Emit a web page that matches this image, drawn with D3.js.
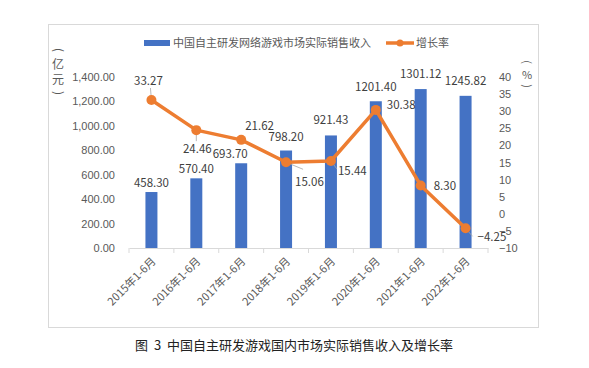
<!DOCTYPE html>
<html>
<head>
<meta charset="utf-8">
<script src="https://cdn.jsdelivr.net/npm/d3@7"></script>
<style>
  body { margin: 0; background: #fff; }
  svg { font-family: "Noto Sans CJK SC", "Noto Sans", sans-serif; }
</style>
</head>
<body>
<svg></svg>
<script>
var categories = ['2015年1-6月', '2016年1-6月', '2017年1-6月', '2018年1-6月',
  '2019年1-6月', '2020年1-6月', '2021年1-6月', '2022年1-6月'];
var revenue = [458.30, 570.40, 693.70, 798.20, 921.43, 1201.40, 1301.12, 1245.82];
var growth = [33.27, 24.46, 21.62, 15.06, 15.44, 30.38, 8.30, -4.25];
var leftTicks = [0, 200, 400, 600, 800, 1000, 1200, 1400];
var rightTicks = [-10, -5, 0, 5, 10, 15, 20, 25, 30, 35, 40];

var svgWidth = 589;
var svgHeight = 368;
var barColor = '#4472C4';
var lineColor = '#ED7D31';
var textColor = '#404040';

// label placement relative to each point (layout only)
var barLabelDx = [0, 0, -11, 0, 0, 0, 0, 0];
var barLabelDy = [-5, -5, -5, -10, -11, -10, -11, -11];
var lineLabel = [
  {dx: -3, dy: -15, anchor: 'middle', lx: -1, ly: -12},
  {dx: 1, dy: 23, anchor: 'middle', lx: 0, ly: 11},
  {dx: 4, dy: -10, anchor: 'start', lx: 0, ly: 0},
  {dx: 9, dy: 24, anchor: 'start', lx: 17, ly: 7},
  {dx: 7, dy: 14, anchor: 'start', lx: 6, ly: 8},
  {dx: 11, dy: -1, anchor: 'start', lx: 0, ly: 0},
  {dx: 13, dy: 5, anchor: 'start', lx: 0, ly: 0},
  {dx: 12, dy: 13, anchor: 'start', lx: 7, ly: 8}
];

var svg = d3.select('svg')
  .attr('width', svgWidth)
  .attr('height', svgHeight);

// ----- frame ----- //
svg.append('rect')
  .attr('x', 48.5).attr('y', 24.5)
  .attr('width', 490).attr('height', 303)
  .attr('fill', 'none')
  .attr('stroke', '#d9d9d9');

// ----- scales ----- //
var x = d3.scaleBand().domain(categories).range([129, 488]);
var yL = d3.scaleLinear().domain([0, 1400]).range([248, 77]);
var yR = d3.scaleLinear().domain([-10, 40]).range([248, 77]);

function cx(i) { return x(categories[i]) + x.bandwidth() / 2; }

// ----- axes ----- //
var leftAxis = svg.append('g')
  .attr('transform', translate(120, 0))
  .call(d3.axisLeft(yL).tickValues(leftTicks).tickSize(0).tickPadding(5)
    .tickFormat(d3.format(',.2f')));
leftAxis.select('.domain').remove();
leftAxis.selectAll('text').attr('fill', '#595959').style('font-size', '11px');

var rightAxis = svg.append('g')
  .attr('transform', translate(494, 0))
  .call(d3.axisRight(yR).tickValues(rightTicks).tickSize(0).tickPadding(5));
rightAxis.select('.domain').remove();
rightAxis.selectAll('text').attr('fill', '#595959').style('font-size', '11px');

var xAxis = svg.append('g')
  .attr('transform', translate(0, 248))
  .call(d3.axisBottom(x).tickSize(0).tickFormat(''));
xAxis.select('.domain').attr('stroke', '#d9d9d9');
// boundary ticks
svg.append('g').selectAll('line')
  .data(d3.range(categories.length + 1))
  .enter()
  .append('line')
  .attr('x1', function(d) { return 129 + d * x.step(); })
  .attr('x2', function(d) { return 129 + d * x.step(); })
  .attr('y1', 248).attr('y2', 253)
  .attr('stroke', '#d9d9d9');

svg.append('g').selectAll('text')
  .data(categories)
  .enter()
  .append('text')
  .attr('transform', function(d) {
    return translate(x(d) + x.bandwidth() / 2 + 5, 262) + ' rotate(-45)';
  })
  .attr('text-anchor', 'end')
  .attr('fill', '#595959')
  .style('font-size', '11px')
  .text(function(d) { return d; });

// ----- axis units (vertical, brackets turned) ----- //
unitLabel(58, 50, ['亿', '元'], 15, 12);
unitLabel(527, 62, ['%'], 13, 11);

function unitLabel(ux, top, chars, step, size) {
  var g = svg.append('g')
    .attr('fill', '#595959')
    .style('font-size', size + 'px');
  g.append('text')
    .attr('transform', translate(ux, top) + ' rotate(90)')
    .attr('text-anchor', 'middle')
    .attr('dy', '0.35em')
    .text('(');
  g.selectAll('text.c')
    .data(chars)
    .enter()
    .append('text')
    .attr('class', 'c')
    .attr('x', ux)
    .attr('y', function(d, i) { return top + (i + 1) * step; })
    .attr('dy', '0.35em')
    .attr('text-anchor', 'middle')
    .text(function(d) { return d; });
  g.append('text')
    .attr('transform', translate(ux, top + (chars.length + 1) * step - 2) + ' rotate(90)')
    .attr('text-anchor', 'middle')
    .attr('dy', '0.35em')
    .text(')');
}

// ----- bars ----- //
var barW = 12;
svg.append('g').selectAll('rect')
  .data(revenue)
  .enter()
  .append('rect')
  .attr('x', function(d, i) { return cx(i) - barW / 2; })
  .attr('y', function(d) { return yL(d); })
  .attr('width', barW)
  .attr('height', function(d) { return yL(0) - yL(d); })
  .attr('fill', barColor);

svg.append('g').selectAll('text')
  .data(revenue)
  .enter()
  .append('text')
  .attr('x', function(d, i) { return cx(i) + barLabelDx[i]; })
  .attr('y', function(d, i) { return yL(d) + barLabelDy[i]; })
  .attr('text-anchor', 'middle')
  .attr('fill', textColor)
  .style('font-size', '11.5px')
  .text(function(d) { return d3.format('.2f')(d); });

// ----- line ----- //
var line = d3.line()
  .x(function(d, i) { return cx(i); })
  .y(function(d) { return yR(d); });

svg.append('path')
  .datum(growth)
  .attr('d', line)
  .attr('fill', 'none')
  .attr('stroke', lineColor)
  .attr('stroke-width', 3.5)
  .attr('stroke-linejoin', 'round');

// leader lines
svg.append('g').selectAll('line')
  .data(growth)
  .enter()
  .append('line')
  .attr('x1', function(d, i) { return cx(i); })
  .attr('y1', function(d) { return yR(d); })
  .attr('x2', function(d, i) { return cx(i) + lineLabel[i].lx; })
  .attr('y2', function(d, i) { return yR(d) + lineLabel[i].ly; })
  .attr('stroke', '#a6a6a6')
  .attr('stroke-width', 0.8);

svg.append('g').selectAll('circle')
  .data(growth)
  .enter()
  .append('circle')
  .attr('cx', function(d, i) { return cx(i); })
  .attr('cy', function(d) { return yR(d); })
  .attr('r', 5)
  .attr('fill', lineColor);

svg.append('g').selectAll('text')
  .data(growth)
  .enter()
  .append('text')
  .attr('x', function(d, i) { return cx(i) + lineLabel[i].dx; })
  .attr('y', function(d, i) { return yR(d) + lineLabel[i].dy; })
  .attr('text-anchor', function(d, i) { return lineLabel[i].anchor; })
  .attr('fill', textColor)
  .style('font-size', '11.5px')
  .text(function(d) { return d3.format('.2f')(d); });

// ----- legend ----- //
var legend = svg.append('g');
legend.append('rect')
  .attr('x', 144).attr('y', 40).attr('width', 26).attr('height', 6)
  .attr('fill', barColor);
legend.append('text')
  .attr('x', 173).attr('y', 47)
  .attr('fill', '#595959')
  .style('font-size', '11px')
  .text('中国自主研发网络游戏市场实际销售收入');
legend.append('line')
  .attr('x1', 386).attr('x2', 414).attr('y1', 43).attr('y2', 43)
  .attr('stroke', lineColor).attr('stroke-width', 3.5);
legend.append('circle')
  .attr('cx', 400).attr('cy', 43).attr('r', 3.5)
  .attr('fill', lineColor);
legend.append('text')
  .attr('x', 416).attr('y', 47)
  .attr('fill', '#595959')
  .style('font-size', '11px')
  .text('增长率');

// ----- caption ----- //
svg.append('text')
  .attr('x', 294).attr('y', 350)
  .attr('text-anchor', 'middle')
  .attr('fill', '#222')
  .style('font-size', '13px')
  .style('word-spacing', '3px')
  .text('图 3 中国自主研发游戏国内市场实际销售收入及增长率');

function translate(x, y) {
  return 'translate(' + x + ',' + y + ')';
}
</script>
</body>
</html>
